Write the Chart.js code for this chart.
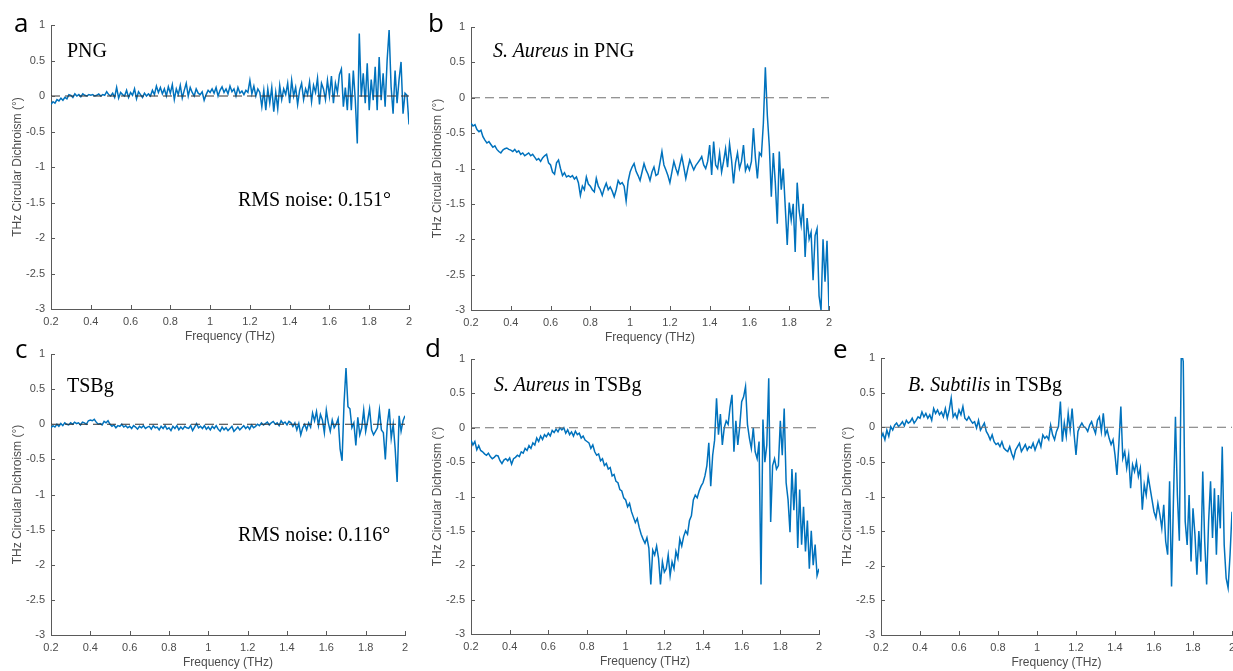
<!DOCTYPE html>
<html>
<head>
<meta charset="utf-8">
<script src="https://cdn.jsdelivr.net/npm/chart.js@4.4.1/dist/chart.umd.min.js"></script>
<style>
  html, body { margin: 0; padding: 0; background: #fff; overflow: hidden; width: 1233px; height: 671px; position: relative; }
  canvas { position: absolute; }
  .lbl { position: absolute; white-space: nowrap; line-height: 1; color: #000; }
  .letter { font-family: "Open Sans", "Noto Sans", sans-serif; font-size: 26px; }
  .note { font-family: "Liberation Serif", "Times New Roman", serif; font-size: 20px; }
</style>
</head>
<body>
<canvas id="panelA"></canvas>
<canvas id="panelB"></canvas>
<canvas id="panelC"></canvas>
<canvas id="panelD"></canvas>
<canvas id="panelE"></canvas>

<div class="lbl letter" style="left:14px;top:9px">a</div>
<div class="lbl letter" style="left:428px;top:9px">b</div>
<div class="lbl letter" style="left:15px;top:335px">c</div>
<div class="lbl letter" style="left:425px;top:334px">d</div>
<div class="lbl letter" style="left:833px;top:335px">e</div>

<div class="lbl note" style="left:67px;top:40px">PNG</div>
<div class="lbl note" style="left:238px;top:189px">RMS noise: 0.151°</div>
<div class="lbl note" style="left:493px;top:40px"><i>S. Aureus</i> in PNG</div>
<div class="lbl note" style="left:67px;top:375px">TSBg</div>
<div class="lbl note" style="left:238px;top:524px">RMS noise: 0.116°</div>
<div class="lbl note" style="left:494px;top:374px"><i>S. Aureus</i> in TSBg</div>
<div class="lbl note" style="left:908px;top:374px"><i>B. Subtilis</i> in TSBg</div>

<script>
// frequency grid, 0.2 .. 2 THz in 0.01 steps
const freq = [];
for (let i = 0; i <= 180; i++) freq.push((20 + i) / 100);

const xTickVals = [0.2, 0.4, 0.6, 0.8, 1, 1.2, 1.4, 1.6, 1.8, 2];
const yTickVals = [-3, -2.5, -2, -1.5, -1, -0.5, 0, 0.5, 1];
const zeroFreq = [0.2, 2];
const zeroLine = [0, 0];

// a: PNG blank
const cdPng = [
  -0.12,-0.08,-0.10,-0.05,-0.07,-0.03,-0.06,-0.02,-0.04,0.02,
  0.01,-0.02,0.03,0.00,0.02,-0.01,0.03,0.01,0.00,0.02,
  0.01,0.02,0.00,0.01,0.03,0.00,0.02,0.01,0.06,0.02,
  0.00,0.04,-0.02,0.12,-0.03,0.05,0.02,0.00,0.08,-0.02,
  0.05,0.01,0.10,-0.04,0.06,0.02,-0.02,0.04,0.00,0.03,
  0.00,0.08,0.02,0.14,0.05,0.12,0.03,0.10,0.00,0.13,
  0.04,0.16,-0.05,0.10,0.02,0.15,-0.03,0.08,0.18,0.00,
  0.12,0.05,0.00,0.10,0.04,0.02,0.06,-0.06,0.02,0.08,
  0.05,0.10,0.04,0.12,0.00,0.08,0.13,0.05,0.10,0.03,
  0.14,0.06,0.10,0.00,0.12,0.04,0.07,0.02,0.08,0.05,
  0.22,0.03,0.14,0.00,0.10,0.05,-0.15,0.08,-0.20,0.10,
  -0.10,0.12,-0.22,0.05,-0.18,0.15,-0.05,0.10,0.02,0.18,
  -0.10,0.22,0.00,0.12,-0.12,0.08,0.18,-0.05,0.10,0.02,
  0.20,-0.08,0.15,0.05,0.25,-0.12,0.18,0.10,-0.05,0.22,
  0.00,0.28,-0.10,0.18,0.05,0.30,0.38,-0.15,0.12,-0.20,
  0.32,-0.20,0.36,-0.06,-0.67,0.88,-0.01,0.32,-0.10,0.46,
  -0.20,0.23,-0.06,0.41,-0.20,0.55,-0.06,0.32,-0.15,0.50,
  0.93,0.13,-0.25,0.36,-0.10,0.23,0.48,-0.25,0.04,0.01,
  -0.40
];

// b: S. Aureus in PNG
const cdAureusPng = [
  -0.36,-0.40,-0.38,-0.45,-0.48,-0.46,-0.55,-0.60,-0.64,-0.62,
  -0.66,-0.70,-0.68,-0.73,-0.76,-0.78,-0.74,-0.72,-0.71,-0.73,
  -0.74,-0.76,-0.73,-0.77,-0.75,-0.80,-0.78,-0.82,-0.80,-0.78,
  -0.82,-0.80,-0.84,-0.88,-0.86,-0.90,-0.85,-0.82,-0.80,-0.92,
  -0.95,-1.05,-1.08,-0.92,-0.88,-1.00,-1.10,-1.06,-1.12,-1.10,
  -1.12,-1.10,-1.15,-1.12,-1.20,-1.38,-1.25,-1.30,-1.12,-1.22,
  -1.25,-1.30,-1.33,-1.14,-1.25,-1.30,-1.38,-1.28,-1.21,-1.30,
  -1.26,-1.32,-1.40,-1.30,-1.17,-1.22,-1.20,-1.25,-1.46,-1.18,
  -1.05,-0.98,-0.93,-1.04,-1.10,-1.17,-1.05,-0.93,-1.02,-1.08,
  -1.17,-1.05,-0.98,-1.10,-1.08,-0.92,-0.76,-0.95,-1.02,-1.10,
  -1.20,-1.05,-0.90,-1.00,-1.08,-0.95,-0.83,-0.98,-1.14,-1.00,
  -0.88,-0.95,-1.02,-0.96,-0.92,-0.88,-0.83,-0.95,-1.00,-0.90,
  -0.67,-1.09,-0.62,-0.95,-1.00,-0.78,-1.05,-0.90,-0.72,-0.98,
  -0.65,-0.88,-1.21,-0.92,-0.78,-1.00,-0.90,-0.67,-1.03,-0.95,
  -1.02,-0.90,-0.43,-0.85,-1.14,-0.78,-0.82,-0.36,0.43,-0.25,
  -0.69,-1.40,-0.78,-1.20,-1.78,-0.76,-1.30,-1.00,-1.54,-2.08,
  -1.48,-1.73,-1.50,-2.18,-1.20,-1.60,-1.80,-1.50,-2.25,-1.70,
  -2.00,-1.90,-2.58,-1.95,-1.85,-2.80,-3.00,-2.00,-2.60,-2.02,
  -3.00
];

// c: TSBg blank
const cdTsb = [
  -0.05,-0.02,-0.04,0.00,-0.03,0.01,-0.02,0.02,0.00,-0.01,
  0.02,0.00,0.03,0.01,0.02,-0.01,0.03,0.02,0.00,0.05,
  0.06,0.05,0.07,0.03,0.00,0.01,-0.01,0.04,0.02,0.05,
  0.00,-0.03,-0.01,-0.05,-0.02,-0.03,0.00,-0.04,-0.02,-0.05,
  -0.03,-0.06,-0.02,-0.04,-0.07,-0.03,-0.05,-0.02,-0.06,-0.04,
  -0.03,-0.07,-0.02,-0.05,-0.04,-0.08,-0.03,-0.06,-0.02,-0.07,
  -0.05,-0.09,-0.03,-0.06,-0.02,-0.08,-0.04,-0.07,-0.03,-0.05,
  -0.06,-0.02,-0.09,-0.04,0.01,-0.05,-0.03,-0.06,-0.02,-0.07,
  -0.04,-0.08,-0.03,-0.06,-0.02,-0.07,-0.10,-0.04,-0.08,-0.05,
  -0.09,-0.06,-0.03,-0.10,-0.07,-0.04,-0.08,-0.05,-0.02,-0.06,
  -0.03,-0.07,-0.01,-0.05,-0.03,0.00,-0.02,0.02,-0.01,0.01,
  0.03,-0.01,0.02,0.04,0.00,0.02,-0.02,0.05,0.01,0.03,
  -0.01,0.04,0.02,-0.03,0.02,-0.08,0.01,-0.15,-0.05,0.00,
  -0.08,0.02,-0.04,0.16,0.05,0.18,-0.02,0.14,0.06,-0.12,
  0.20,0.02,-0.10,0.06,-0.05,0.00,0.08,-0.35,-0.52,0.30,
  0.80,0.25,0.22,-0.05,0.02,-0.30,0.10,-0.15,-0.05,0.20,
  -0.10,0.05,0.22,-0.08,-0.15,-0.10,-0.05,0.20,-0.08,-0.12,
  -0.50,0.00,0.22,-0.20,0.00,-0.35,-0.82,0.12,-0.10,0.05,
  0.12
];

// d: S. Aureus in TSBg
const cdAureusTsb = [
  -0.18,-0.25,-0.20,-0.32,-0.26,-0.33,-0.35,-0.38,-0.40,-0.37,
  -0.42,-0.45,-0.43,-0.40,-0.41,-0.48,-0.52,-0.47,-0.45,-0.48,
  -0.44,-0.53,-0.45,-0.43,-0.40,-0.42,-0.35,-0.37,-0.30,-0.33,
  -0.26,-0.30,-0.22,-0.25,-0.15,-0.20,-0.12,-0.17,-0.10,-0.13,
  -0.08,-0.12,-0.04,-0.07,-0.02,-0.06,0.00,-0.03,0.00,-0.08,
  -0.03,-0.10,-0.06,-0.12,-0.05,-0.10,-0.08,-0.15,-0.12,-0.18,
  -0.20,-0.22,-0.30,-0.25,-0.35,-0.40,-0.38,-0.48,-0.45,-0.55,
  -0.52,-0.60,-0.58,-0.70,-0.68,-0.78,-0.80,-0.90,-0.92,-1.02,
  -1.05,-1.15,-1.10,-1.22,-1.30,-1.38,-1.32,-1.45,-1.55,-1.62,
  -1.68,-1.60,-1.75,-2.28,-1.78,-1.85,-1.72,-1.90,-2.28,-1.95,
  -2.10,-2.05,-1.85,-2.15,-1.95,-2.05,-1.80,-1.90,-1.62,-1.72,
  -1.58,-1.50,-1.55,-1.35,-1.28,-1.05,-0.98,-1.02,-0.92,-0.85,
  -0.80,-0.70,-0.55,-0.22,-0.85,-0.40,-0.18,0.43,-0.10,0.20,
  -0.25,0.00,0.10,0.05,0.30,0.48,-0.35,0.10,-0.25,0.02,
  0.38,0.45,0.60,0.05,-0.15,-0.30,0.00,-0.35,-0.45,-0.20,
  -2.28,0.12,-0.50,-0.25,0.72,-1.37,-0.55,-0.45,-0.60,-0.55,
  0.10,-0.40,0.28,-0.80,-1.05,-1.52,-0.60,-1.20,-0.65,-1.75,
  -0.90,-1.70,-1.15,-1.80,-1.35,-2.05,-1.50,-2.00,-1.70,-2.15,
  -2.05
];

// e: B. Subtilis in TSBg
const cdSubtilisTsb = [
  -0.16,-0.09,-0.18,-0.04,-0.13,0.01,-0.04,0.03,0.06,0.01,
  0.04,0.08,0.02,0.10,0.06,0.08,0.13,0.06,0.10,0.15,
  0.13,0.22,0.15,0.20,0.13,0.18,0.10,0.27,0.20,0.25,
  0.18,0.22,0.15,0.27,0.13,0.25,0.42,0.15,0.20,0.13,
  0.25,0.18,0.30,0.13,0.10,0.15,0.10,0.06,0.08,-0.01,
  0.10,-0.04,0.01,0.06,-0.06,-0.11,-0.18,-0.11,-0.21,-0.25,
  -0.23,-0.28,-0.21,-0.30,-0.33,-0.35,-0.28,-0.38,-0.45,-0.33,
  -0.28,-0.23,-0.35,-0.30,-0.25,-0.33,-0.28,-0.30,-0.23,-0.33,
  -0.25,-0.18,-0.28,-0.11,-0.16,-0.13,-0.18,0.03,-0.11,-0.18,
  -0.06,0.01,0.37,-0.21,0.06,-0.13,0.20,-0.04,0.27,-0.09,
  -0.40,-0.06,0.01,0.06,0.01,-0.01,-0.06,0.03,0.08,-0.01,
  -0.09,0.10,0.15,-0.06,0.20,-0.11,-0.04,-0.16,-0.25,-0.18,
  -0.40,-0.69,-0.23,0.30,-0.45,-0.35,-0.59,-0.40,-0.88,-0.54,
  -0.64,-0.50,-0.71,-0.59,-1.19,-0.83,-0.98,-0.71,-0.88,-1.05,
  -1.22,-1.31,-1.10,-1.26,-1.46,-1.12,-1.65,-1.84,-0.78,-2.30,
  -1.02,0.15,-0.98,-1.64,1.10,0.95,-1.36,-1.70,-0.98,-1.94,
  -1.17,-1.55,-2.13,-1.50,-1.94,-0.64,-1.65,-2.27,-1.36,-0.78,
  -1.60,-0.88,-1.84,-0.98,-1.46,-0.28,-1.70,-2.18,-2.32,-1.84,
  -1.22
];

const AXIS = '#5a5a5a';
const TEXT = '#4d4d4d';
const BLUE = '#0072BD';

// MATLAB style tick marks pointing into the plot
const innerTicks = {
  id: 'innerTicks',
  afterDatasetsDraw(chart) {
    const { ctx, chartArea, scales } = chart;
    ctx.save();
    ctx.strokeStyle = AXIS;
    ctx.lineWidth = 1;
    ctx.beginPath();
    scales.x.ticks.forEach(t => {
      const px = Math.round(scales.x.getPixelForValue(t.value)) + 0.5;
      ctx.moveTo(px, chartArea.bottom);
      ctx.lineTo(px, chartArea.bottom - 4);
    });
    scales.y.ticks.forEach(t => {
      const py = Math.round(scales.y.getPixelForValue(t.value)) + 0.5;
      ctx.moveTo(chartArea.left, py);
      ctx.lineTo(chartArea.left + 4, py);
    });
    ctx.stroke();
    ctx.restore();
  }
};

function panel(id, area, values, zeroColor) {
  const [l, t, r, b] = area;
  const cv = document.getElementById(id);
  cv.width = r - l + 62;
  cv.height = b - t + 61;
  cv.style.left = (l - 51) + 'px';
  cv.style.top = (t - 25) + 'px';

  new Chart(cv, {
    type: 'line',
    data: {
      datasets: [
        {
          data: zeroFreq.map((f, i) => ({ x: f, y: zeroLine[i] })),
          borderColor: zeroColor,
          borderWidth: 1,
          borderDash: [9, 5],
          pointRadius: 0
        },
        {
          data: freq.map((f, i) => ({ x: f, y: values[i] })),
          borderColor: BLUE,
          borderWidth: 1.5,
          pointRadius: 0,
          tension: 0
        }
      ]
    },
    options: {
      responsive: false,
      animation: false,
      events: [],
      layout: { padding: { left: 0, top: 25, right: 11, bottom: 0 } },
      plugins: { legend: { display: false }, tooltip: { enabled: false } },
      scales: {
        x: {
          type: 'linear',
          min: 0.2,
          max: 2,
          afterBuildTicks: s => { s.ticks = xTickVals.map(v => ({ value: v })); },
          afterFit: s => { s.height = 36; },
          grid: { display: false, drawTicks: false },
          border: { display: true, color: AXIS, width: 1 },
          ticks: {
            padding: 6,
            color: TEXT,
            maxRotation: 0,
            autoSkip: false,
            font: { family: '"Liberation Sans", Arial, sans-serif', size: 11 },
            callback: v => String(v)
          },
          title: {
            display: true,
            text: 'Frequency (THz)',
            color: TEXT,
            padding: { top: 0, bottom: 1 },
            font: { family: '"Liberation Sans", Arial, sans-serif', size: 12 }
          }
        },
        y: {
          min: -3,
          max: 1,
          afterBuildTicks: s => { s.ticks = yTickVals.map(v => ({ value: v })); },
          afterFit: s => { s.width = 51; },
          grid: { display: false, drawTicks: false },
          border: { display: true, color: AXIS, width: 1 },
          ticks: {
            padding: 6,
            color: TEXT,
            autoSkip: false,
            font: { family: '"Liberation Sans", Arial, sans-serif', size: 11 },
            callback: v => String(v)
          },
          title: {
            display: true,
            text: 'THz Circular Dichroism (°)',
            color: TEXT,
            padding: { top: 10, bottom: 0 },
            font: { family: '"Liberation Sans", Arial, sans-serif', size: 12 }
          }
        }
      }
    },
    plugins: [innerTicks]
  });
}

panel('panelA', [51, 25, 409, 309], cdPng, '#333333');
panel('panelB', [471, 27, 829, 310], cdAureusPng, '#707070');
panel('panelC', [51, 354, 405, 635], cdTsb, '#333333');
panel('panelD', [471, 359, 819, 634], cdAureusTsb, '#707070');
panel('panelE', [881, 358, 1232, 635], cdSubtilisTsb, '#707070');
</script>
</body>
</html>
